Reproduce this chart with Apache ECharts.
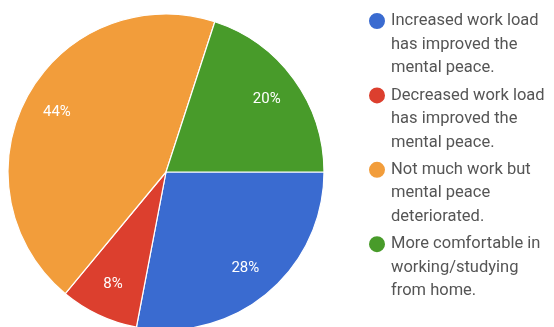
<!DOCTYPE html>
<html>
<head>
<meta charset="utf-8">
<script src="https://cdn.jsdelivr.net/npm/echarts@6/dist/echarts.min.js"></script>
<style>
  html, body { margin: 0; padding: 0; background: #fff; }
  #chart { width: 554px; height: 327px; }
</style>
</head>
<body>
<div id="chart"></div>
<script>
// Survey answers, in clockwise order from 3 o'clock
const categories = [
  'Increased work load\nhas improved the\nmental peace.',
  'Decreased work load\nhas improved the\nmental peace.',
  'Not much work but\nmental peace\ndeteriorated.',
  'More comfortable in\nworking/studying\nfrom home.'
];
const shares = [28, 8, 44, 20];
const colors = ['#3a6bd0', '#dc3f2e', '#f29d3b', '#489b2a'];

const LINE = 23.5;               // legend line height
const itemBox = LINE * 5;        // two spacer lines + three text lines
const legendTop = 16;            // reference line for the first legend entry
const entryStep = 74.4;          // distance between legend dots

const chart = echarts.init(document.getElementById('chart'), null, { renderer: 'canvas' });

const slices = categories.map((name, i) => ({
  name: name,
  value: shares[i],
  itemStyle: { color: colors[i] }
}));

chart.setOption({
  animation: false,
  backgroundColor: '#ffffff',
  legend: {
    orient: 'vertical',
    left: 362,
    top: legendTop - itemBox / 2,
    icon: 'circle',
    itemWidth: 18,
    itemHeight: 18,
    itemGap: entryStep - itemBox,
    selectedMode: false,
    data: categories,
    // two empty lines above keep the dot level with the first text line
    formatter: name => '\n\n' + name,
    textStyle: {
      fontFamily: 'Roboto',
      fontSize: 16.5,
      color: '#555555',
      lineHeight: LINE
    }
  },
  series: [
    {
      type: 'pie',
      center: [166, 172],
      radius: [0, 158],
      startAngle: 0,
      clockwise: true,
      avoidLabelOverlap: false,
      label: { show: false },
      labelLine: { show: false },
      itemStyle: { borderColor: '#ffffff', borderWidth: 1.2 },
      emphasis: { disabled: true },
      data: slices
    },
    {
      // percentage labels placed partway toward the rim
      type: 'pie',
      center: [166, 172],
      radius: [85, 158],
      startAngle: 0,
      clockwise: true,
      silent: true,
      avoidLabelOverlap: false,
      itemStyle: { color: 'rgba(0,0,0,0)', borderWidth: 0 },
      label: {
        show: true,
        position: 'inside',
        formatter: p => p.value + '%',
        fontFamily: 'Roboto',
        fontSize: 15,
        color: '#ffffff'
      },
      labelLine: { show: false },
      emphasis: { disabled: true },
      data: categories.map((name, i) => ({ name: name, value: shares[i] }))
    }
  ]
});
</script>
</body>
</html>
